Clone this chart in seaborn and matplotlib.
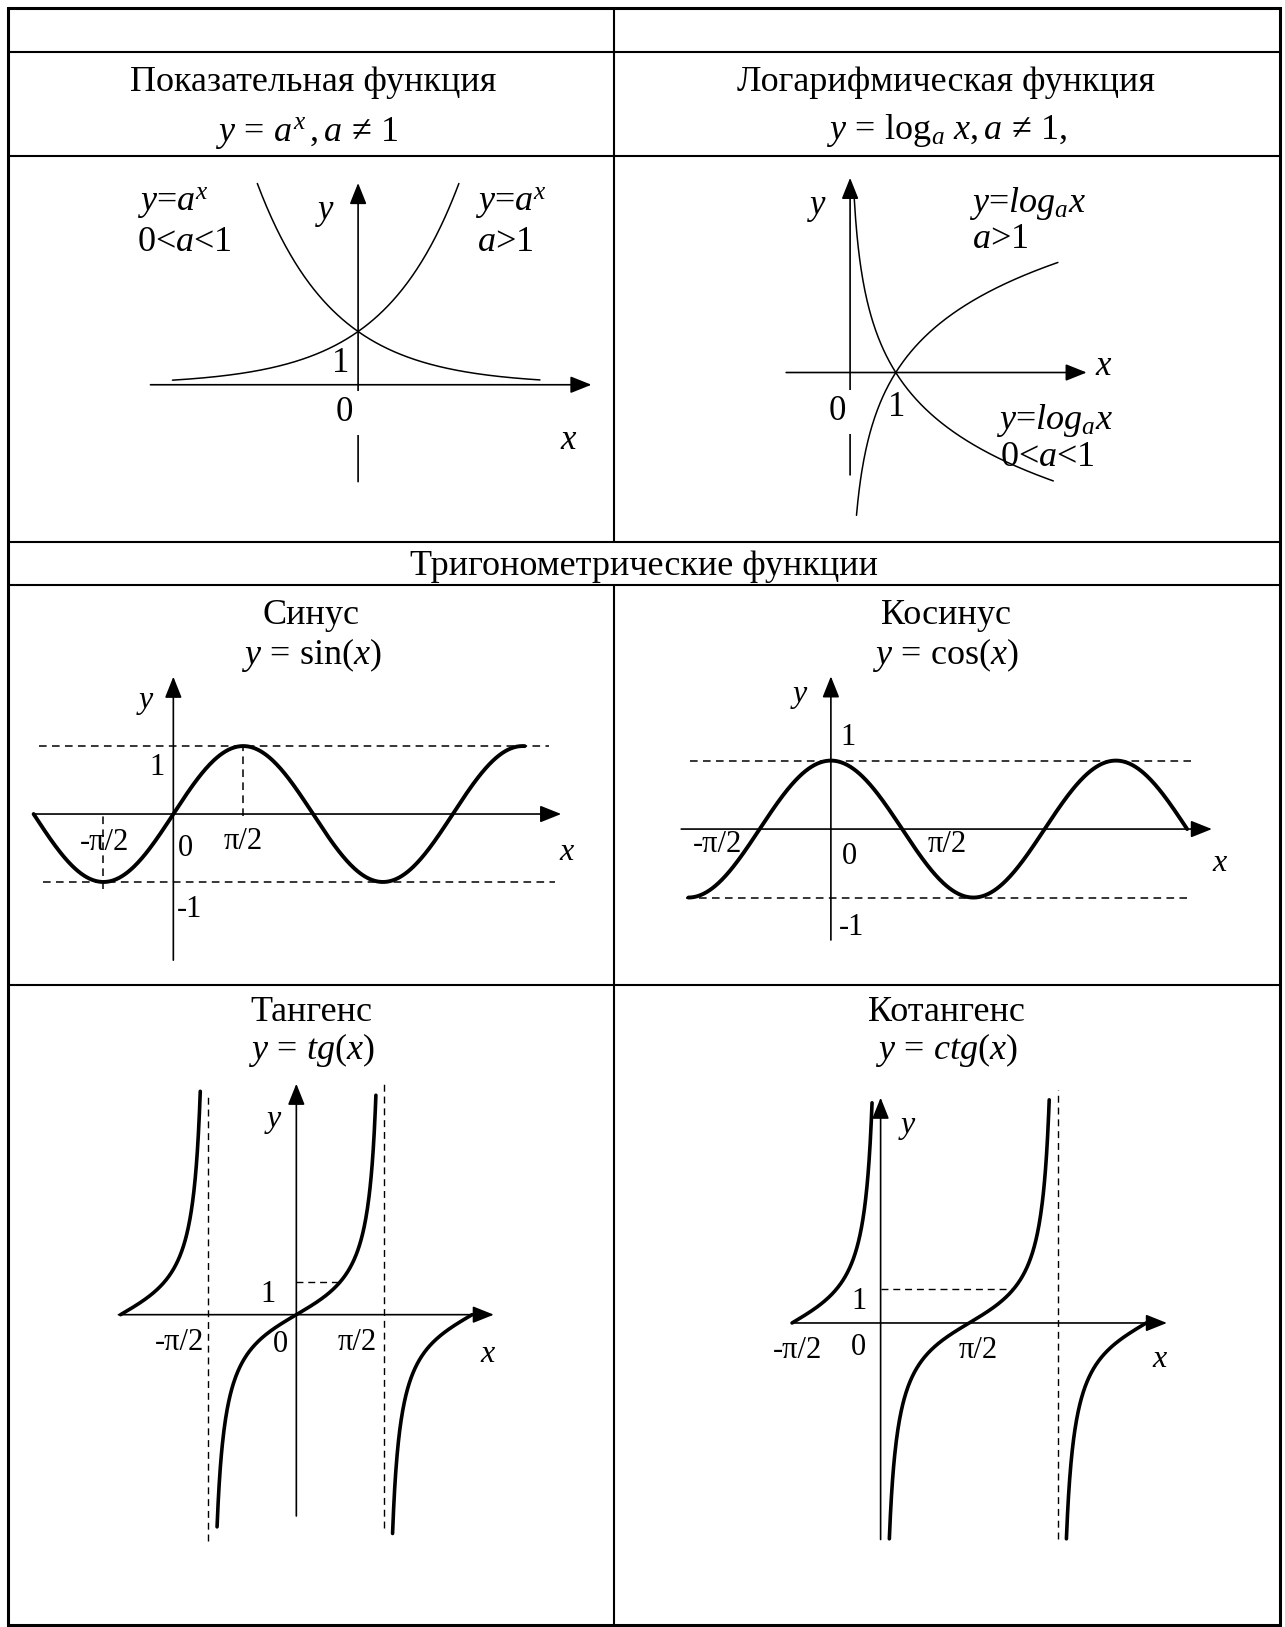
import numpy as np
import matplotlib
matplotlib.use("Agg")
import matplotlib.pyplot as plt
import seaborn as sns

# layout grid = pixels of the shrunken reference (1238 x 1568); saved at 1285 x 1627
W, H = 1238, 1568

# ---------------------------------------------------------------- data
# y = a^x, sketched with a = e (a > 1) and a = 1/e (0 < a < 1)
exp_up_x = np.linspace(-2.45, 1.33, 300)
exp_down_x = np.linspace(-1.33, 2.40, 300)
# y = log_a x, a = e and a = 1/e
log_up_x = np.linspace(0.14, 4.55, 300)
log_down_x = np.linspace(0.092, 4.45, 300)
# sine / cosine ranges
sin_x = np.linspace(-np.pi, 7.9, 500)
cos_x = np.linspace(-np.pi, 2.5 * np.pi, 500)
# tangent / cotangent branches (start, end) where the sketch stops
tan_branches = [(-np.pi, -1.717), (-1.417, 1.422), (1.72, np.pi)]
ctg_branches = [(-np.pi / 2, -0.152), (0.155, np.pi - 0.15), (np.pi + 0.155, 1.5 * np.pi)]

sns.set_theme(style="white")
plt.rcParams["font.family"] = ["Liberation Serif", "DejaVu Serif"]
plt.rcParams["mathtext.fontset"] = "custom"
plt.rcParams["mathtext.rm"] = "Liberation Serif"
plt.rcParams["mathtext.it"] = "Liberation Serif:italic"
plt.rcParams["mathtext.bf"] = "Liberation Serif:bold"

fig = plt.figure(figsize=(12.85, 16.27), dpi=100)
fig.patch.set_facecolor("white")

DASH = (0, (5, 3.5))
ARROW = dict(arrowstyle="-|>,head_length=1.0,head_width=0.4", mutation_scale=13,
             color="black", lw=1.2, shrinkA=0, shrinkB=0)


def panel(ox, oy, sx, sy, xlim, ylim):
    # data (0, 0) sits at grid point (ox, oy); sx, sy = grid px per unit
    left, right = ox + xlim[0] * sx, ox + xlim[1] * sx
    top, bottom = oy - ylim[1] * sy, oy - ylim[0] * sy
    ax = fig.add_axes([left / W, 1 - bottom / H, (right - left) / W, (bottom - top) / H])
    ax.set_xlim(*xlim)
    ax.set_ylim(*ylim)
    ax.axis("off")
    return ax


def arrows(ax, xr, yr):
    ax.annotate("", xy=(xr[1], 0), xytext=(xr[0], 0), arrowprops=ARROW, annotation_clip=False)
    ax.annotate("", xy=(0, yr[1]), xytext=(0, yr[0]), arrowprops=ARROW, annotation_clip=False)


def curve(ax, x, y, lw):
    sns.lineplot(x=x, y=y, ax=ax, color="black", linewidth=lw, estimator=None,
                 sort=False, legend=False)


# ---------------------------------------------------------------- exponential
ax = panel(345, 370.8, 73, 51.3, (-3.0, 3.3), (-2.1, 4.0))
arrows(ax, (-2.74, 3.08), (-1.82, 3.79))
curve(ax, exp_up_x, np.exp(exp_up_x), 1.1)
curve(ax, exp_down_x, np.exp(-exp_down_x), 1.1)
ax.set_xlim(-3.0, 3.3); ax.set_ylim(-2.1, 4.0)

# ---------------------------------------------------------------- logarithm
ax = panel(819, 359, 44, 70, (-1.6, 5.4), (-2.3, 2.9))
arrows(ax, (-1.4, 5.18), (-1.41, 2.68))
curve(ax, log_up_x, np.log(log_up_x), 1.1)
curve(ax, log_down_x, -np.log(log_down_x), 1.1)
ax.set_xlim(-1.6, 5.4); ax.set_ylim(-2.3, 2.9)

# ---------------------------------------------------------------- sine
ax = panel(167, 784.5, 42.85, 65.5, (-3.4, 9.0), (-2.3, 2.2))
ax.hlines(1, -3.02, 8.45, colors="black", lw=1.1, linestyles=DASH)
ax.hlines(-1, -2.93, 8.59, colors="black", lw=1.1, linestyles=DASH)
ax.vlines(np.pi / 2, -0.03, 1, colors="black", lw=1.1, linestyles=DASH)
ax.vlines(-np.pi / 2, -1.1, 0, colors="black", lw=1.1, linestyles=DASH)
arrows(ax, (-3.16, 8.72), (-2.15, 2.02))
curve(ax, sin_x, np.sin(sin_x), 2.8)
ax.set_xlim(-3.4, 9.0); ax.set_ylim(-2.3, 2.2)

# ---------------------------------------------------------------- cosine
ax = panel(800.5, 799, 43.7, 66, (-3.5, 8.6), (-1.8, 2.4))
ax.hlines(1, -3.10, 7.95, colors="black", lw=1.1, linestyles=DASH)
ax.hlines(-1, -3.19, 7.85, colors="black", lw=1.1, linestyles=DASH)
arrows(ax, (-3.30, 8.40), (-1.62, 2.23))
curve(ax, cos_x, np.cos(cos_x), 2.8)
ax.set_xlim(-3.5, 8.6); ax.set_ylim(-1.8, 2.4)

# ---------------------------------------------------------------- tangent
ax = panel(285.5, 1267, 53.9, 31.7, (-3.4, 3.8), (-7.3, 7.4))
ax.vlines(-np.pi / 2, -6.87, 6.72, colors="black", lw=1.0, linestyles=DASH)
ax.vlines(np.pi / 2, -6.5, 7.02, colors="black", lw=1.0, linestyles=DASH)
ax.hlines(1, 0, np.pi / 4, colors="black", lw=1.0, linestyles=DASH)
arrows(ax, (-3.18, 3.53), (-6.12, 7.02))
for a, b in tan_branches:
    xs = np.linspace(a, b, 300)
    curve(ax, xs, np.tan(xs), 2.6)
ax.set_xlim(-3.4, 3.8); ax.set_ylim(-7.3, 7.4)

# ---------------------------------------------------------------- cotangent
# the sketch draws rising branches, i.e. -ctg(x)
ax = panel(848.4, 1275, 54.3, 32.5, (-1.8, 5.3), (-7.0, 7.2))
ax.vlines(np.pi, -6.42, 6.92, colors="black", lw=1.0, linestyles=DASH)
ax.hlines(1, 0, 3 * np.pi / 4, colors="black", lw=1.0, linestyles=DASH)
arrows(ax, (-1.58, 5.08), (-6.42, 6.68))
for a, b in ctg_branches:
    xs = np.linspace(a, b, 300)
    curve(ax, xs, -1 / np.tan(xs), 2.6)
ax.set_xlim(-1.8, 5.3); ax.set_ylim(-7.0, 7.2)

# ---------------------------------------------------------------- table + text (on top)
bg = fig.add_axes([0, 0, 1, 1], zorder=10)
bg.set_xlim(0, W)
bg.set_ylim(H, 0)
bg.axis("off")

for y in [50, 150, 522, 564, 949]:
    bg.hlines(y, 8, 1233, colors="black", lw=1.5)
bg.vlines(592, 8, 522, colors="black", lw=1.5)
bg.vlines(592, 564, 1566, colors="black", lw=1.5)
bg.plot([8, 1233, 1233, 8, 8], [8, 8, 1566, 1566, 8], color="black", lw=2.2,
        solid_joinstyle="miter")


def t(x, y, s, size=25, ha="center", va="center", **kw):
    bg.text(x, y, s, fontsize=size, ha=ha, va=va, color="black", **kw)


# headers
t(302, 88, "Показательная функция", 26, va="baseline")
t(296, 136, r"$y\,=\,a^{x}\,, a\,\neq\,1$", 26, va="baseline")
t(911, 88, "Логарифмическая функция", 26, va="baseline")
t(912, 134, r"$y\,=\,\log_{a}\, x, a\,\neq\,1,$", 26, va="baseline")
t(620, 554, "Тригонометрические функции", 26, va="baseline")
t(300, 601, "Синус", 26, va="baseline")
t(300, 640, r"$y\,=\,\sin(x)$", 26, va="baseline")
t(911, 601, "Косинус", 26, va="baseline")
t(911, 640, r"$y\,=\,\cos(x)$", 26, va="baseline")
t(300, 984, "Тангенс", 26, va="baseline")
t(300, 1021, r"$y\,=\,tg(x)$", 26, va="baseline")
t(912, 984, "Котангенс", 26, va="baseline")
t(912, 1021, r"$y\,=\,ctg(x)$", 26, va="baseline")

# exponential labels
t(132, 196, r"$y$=$a^{x}$", 26, ha="left")
t(132, 234, r"0<$a$<1", 26, ha="left")
t(458, 196, r"$y$=$a^{x}$", 26, ha="left")
t(460, 234, r"$a$>1", 26, ha="left")
t(313, 205, r"$y$")
t(328, 350, "1")
t(332, 398, "0", bbox=dict(fc="white", ec="none", pad=4))
t(548, 425, r"$x$")

# logarithm labels
t(787, 200, r"$y$")
t(934, 196, r"$y$=$log_{a}x$", 26, ha="left")
t(936, 231, r"$a$>1", 26, ha="left")
t(1063, 353, r"$x$")
t(807, 397, "0", bbox=dict(fc="white", ec="none", pad=4))
t(864, 393, "1")
t(960, 405, r"$y$=$log_{a}x$", 26, ha="left")
t(963, 441, r"0<$a$<1", 26, ha="left")

# sine labels
t(140, 677, r"$y$", 23)
t(151, 740, "1", 22)
t(101, 812, "-π/2", 22)
t(179, 818, "0", 22)
t(234, 811, "π/2", 22)
t(546, 822, r"$x$", 23)
t(183, 877, "-1", 22)

# cosine labels
t(770, 671, r"$y$", 23)
t(817, 711, "1", 22)
t(691, 814, "-π/2", 22)
t(818, 825, "0", 22)
t(913, 814, "π/2", 22)
t(1176, 832, r"$x$", 23)
t(820, 894, "-1", 22)

# tangent labels
t(263, 1081, r"$y$", 23)
t(258, 1248, "1", 22)
t(173, 1294, "-π/2", 22)
t(270, 1296, "0", 22)
t(344, 1294, "π/2", 22)
t(470, 1305, r"$x$", 23)

# cotangent labels
t(874, 1087, r"$y$", 23)
t(828, 1254, "1", 22)
t(768, 1302, "-π/2", 22)
t(827, 1299, "0", 22)
t(942, 1302, "π/2", 22)
t(1118, 1310, r"$x$", 23)

fig.savefig("out.png", dpi=100, facecolor="white")
